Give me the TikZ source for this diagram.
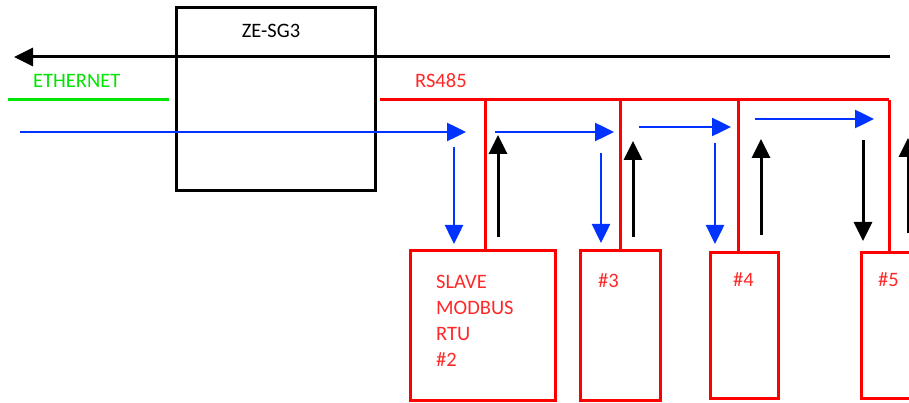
\documentclass[tikz,border=0pt]{standalone}
\usepackage{fontspec}
\setmainfont{Carlito}
\usetikzlibrary{arrows.meta}
\definecolor{busred}{RGB}{255,0,0}
\definecolor{txtred}{RGB}{255,40,40}
\definecolor{ethgreen}{RGB}{0,230,0}
\definecolor{sigblue}{RGB}{0,51,255}
\begin{document}
\begin{tikzpicture}[x=1pt,y=-1pt,
  gwbox/.style={draw=black,line width=3pt,minimum width=199pt,minimum height=183pt,inner sep=0pt},
  slavebox/.style={draw=busred,line width=3pt,inner sep=0pt},
  bus/.style={draw=busred,line width=3pt},
  blk/.style={draw=black,line width=3pt,-{Triangle[length=19pt,width=18pt]}},
  blu/.style={draw=sigblue,line width=2.5pt,-{Triangle[length=19pt,width=18pt]}},
  lbl/.style={font=\fontsize{20.5}{24}\selectfont,inner sep=0pt,anchor=base west},
  every node/.style={inner sep=0pt}]
\clip (0,0) rectangle (909,403);
\fill[white] (0,0) rectangle (909,403);
% gateway
\node[gwbox] (gw) at (275.5,99.5) {};
\node[lbl,anchor=base] (gwt) at (271,38) {ZE-SG3};
% ethernet
\coordinate (eL) at (8,100);
\coordinate (eR) at (169,100);
\draw[ethgreen,line width=3pt] (eL) -- (eR);
\node[lbl,text=ethgreen] (eth) at (33,88) {ETHERNET};
% black return line
\coordinate (kR) at (890,57);
\coordinate (kL) at (14,57);
\draw[blk] (kR) -- (kL);
% blue incoming
\coordinate (bA) at (20,132);
\coordinate (bB) at (466,132);
\draw[blu] (bA) -- (bB);
% RS485 bus
\node[lbl,text=txtred] (rs) at (415,88) {RS485};
\coordinate (r0) at (380,100);
\coordinate (r1) at (485,100);
\coordinate (r2) at (620,100);
\coordinate (r3) at (738,100);
\coordinate (r4) at (889,100);
\draw[bus] (r0) -- (r4);
% slave boxes
\node[slavebox,minimum width=145pt,minimum height=150pt] (s2) at (482.5,325) {};
\node[slavebox,minimum width=80pt,minimum height=150pt] (s3) at (620,325) {};
\node[slavebox,minimum width=68pt,minimum height=146pt] (s4) at (744,325) {};
\node[slavebox,minimum width=90pt,minimum height=146pt] (s5) at (906,325) {};
\draw[bus] (r1) -- (r1 |- s2.north);
\draw[bus] (r2) -- (r2 |- s3.north);
\draw[bus] (r3) -- (r3 |- s4.north);
\draw[bus] (r4) -- (r4 |- s5.north);
% labels
\node[lbl,text=txtred] (t2a) at (436,288) {SLAVE};
\node[lbl,text=txtred] (t2b) at (436,314) {MODBUS};
\node[lbl,text=txtred] (t2c) at (436,340) {RTU};
\node[lbl,text=txtred] (t2d) at (436,366) {\#2};
\node[lbl,text=txtred] (t3) at (598,287) {\#3};
\node[lbl,text=txtred] (t4) at (733,286) {\#4};
\node[lbl,text=txtred] (t5) at (878,286) {\#5};
% signal arrows
\coordinate (d1a) at (454,147); \coordinate (d1b) at (454,244);
\draw[blu] (d1a) -- (d1b);
\coordinate (u1a) at (498,237); \coordinate (u1b) at (498,135);
\draw[blk] (u1a) -- (u1b);
\coordinate (h2a) at (495,132); \coordinate (h2b) at (614,132);
\draw[blu] (h2a) -- (h2b);
\coordinate (d2a) at (601,153); \coordinate (d2b) at (601,243);
\draw[blu] (d2a) -- (d2b);
\coordinate (u2a) at (633,237); \coordinate (u2b) at (633,141);
\draw[blk] (u2a) -- (u2b);
\coordinate (h3a) at (639,127); \coordinate (h3b) at (731,127);
\draw[blu] (h3a) -- (h3b);
\coordinate (d3a) at (715,143); \coordinate (d3b) at (715,244);
\draw[blu] (d3a) -- (d3b);
\coordinate (u3a) at (761,235); \coordinate (u3b) at (761,139);
\draw[blk] (u3a) -- (u3b);
\coordinate (h4a) at (755,119); \coordinate (h4b) at (874,119);
\draw[blu] (h4a) -- (h4b);
\coordinate (d4a) at (863,140); \coordinate (d4b) at (863,241);
\draw[blk] (d4a) -- (d4b);
\coordinate (u4a) at (908,233); \coordinate (u4b) at (908,138);
\draw[blk] (u4a) -- (u4b);
\end{tikzpicture}
\end{document}
